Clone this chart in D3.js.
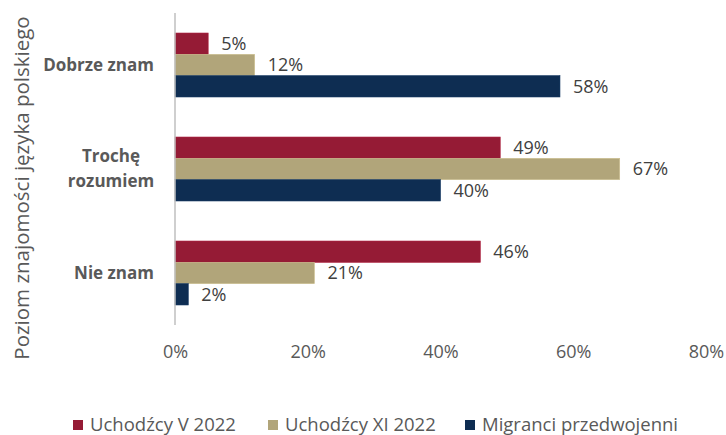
<!DOCTYPE html>
<html>
<head>
<meta charset="utf-8">
<script src="https://cdn.jsdelivr.net/npm/d3@7"></script>
<style>
  body { margin: 0; background: #fff; }
  svg text { font-family: "Open Sans", "DejaVu Sans", sans-serif; }
</style>
</head>
<body>
<div id="chart"></div>
<script>
// categories (top to bottom) and series values in percent
const categories = ["Dobrze znam", "Trochę rozumiem", "Nie znam"];
const seriesNames = ["Uchodźcy V 2022", "Uchodźcy XI 2022", "Migranci przedwojenni"];
const uchodzcyV = [5, 49, 46];
const uchodzcyXI = [12, 67, 21];
const migranci = [58, 40, 2];
const xTicks = [0, 20, 40, 60, 80];

const colors = ["#951b35", "#b1a57a", "#0e2d52"];
const seriesValues = [uchodzcyV, uchodzcyXI, migranci];

const width = 726, height = 435;
const margin = { top: 13, left: 175, bottom: 110, right: 20 };
const iheight = 325 - margin.top;

const svg = d3.select("#chart").append("svg")
    .attr("width", width)
    .attr("height", height);

const g = svg.append("g").attr("transform", `translate(${margin.left},${margin.top})`);

const x = d3.scaleLinear().domain([0, 80]).range([0, 531]);

const y = d3.scaleBand()
    .domain(categories)
    .range([0, iheight])
    .paddingInner(0.385)
    .paddingOuter(0.1925);

const ySub = d3.scaleBand()
    .domain(d3.range(seriesNames.length))
    .range([0, y.bandwidth()]);

categories.forEach((cat, ci) => {
    const grp = g.append("g").attr("transform", `translate(0,${y(cat)})`);
    seriesValues.forEach((vals, si) => {
        grp.append("rect")
            .attr("x", x(0))
            .attr("y", ySub(si))
            .attr("width", x(vals[ci]) - x(0))
            .attr("height", ySub.bandwidth())
            .attr("fill", colors[si])
            .attr("stroke", d3.color(colors[si]).brighter(0.4))
            .attr("stroke-width", 0.6);
        grp.append("text")
            .attr("x", x(vals[ci]) + 13)
            .attr("y", ySub(si) + ySub.bandwidth() / 2)
            .attr("dy", "0.35em")
            .attr("fill", "#404040")
            .style("font-size", "18px")
            .text(vals[ci] + "%");
    });
});

// vertical axis line
g.append("line")
    .attr("x1", x(0)).attr("x2", x(0))
    .attr("y1", 0).attr("y2", iheight)
    .attr("stroke", "#bfbfbf")
    .attr("stroke-width", 1.5);

// category labels
categories.forEach(cat => {
    const cy = y(cat) + y.bandwidth() / 2;
    const lbl = g.append("text")
        .attr("fill", "#595959")
        .style("font-size", "17px")
        .style("font-weight", "bold");
    if (cat === "Trochę rozumiem") {
        lbl.attr("text-anchor", "middle");
        lbl.append("tspan").attr("x", -64).attr("y", cy - 12.5).attr("dy", "0.35em").text("Trochę");
        lbl.append("tspan").attr("x", -64).attr("y", cy + 12.5).attr("dy", "0.35em").text("rozumiem");
    } else {
        lbl.attr("text-anchor", "end")
            .attr("x", -21).attr("y", cy).attr("dy", "0.35em")
            .text(cat);
    }
});

// x axis tick labels
const xAxis = g.append("g")
    .attr("transform", `translate(0,${iheight})`)
    .call(d3.axisBottom(x).tickValues(xTicks).tickFormat(d => d + "%").tickSize(0).tickPadding(20));
xAxis.select(".domain").remove();
xAxis.selectAll("text")
    .attr("fill", "#595959")
    .style("font-size", "18px")
    .style("font-family", "'Open Sans', sans-serif");

// y axis title
svg.append("text")
    .attr("transform", "translate(22,188) rotate(-90)")
    .attr("text-anchor", "middle")
    .attr("dy", "0.35em")
    .attr("fill", "#595959")
    .style("font-size", "20.5px")
    .text("Poziom znajomości języka polskiego");

// legend
const legendX = [73, 268, 465];
const legend = svg.append("g").attr("transform", "translate(0,425)");
seriesNames.forEach((name, i) => {
    legend.append("rect")
        .attr("x", legendX[i]).attr("y", -5)
        .attr("width", 10).attr("height", 10)
        .attr("fill", colors[i]);
    legend.append("text")
        .attr("x", legendX[i] + 17).attr("y", 0)
        .attr("dy", "0.35em")
        .attr("fill", "#595959")
        .style("font-size", "18.5px")
        .style("font-family", "'Liberation Sans Narrow', 'Open Sans', sans-serif")
        .text(name);
});
</script>
</body>
</html>
